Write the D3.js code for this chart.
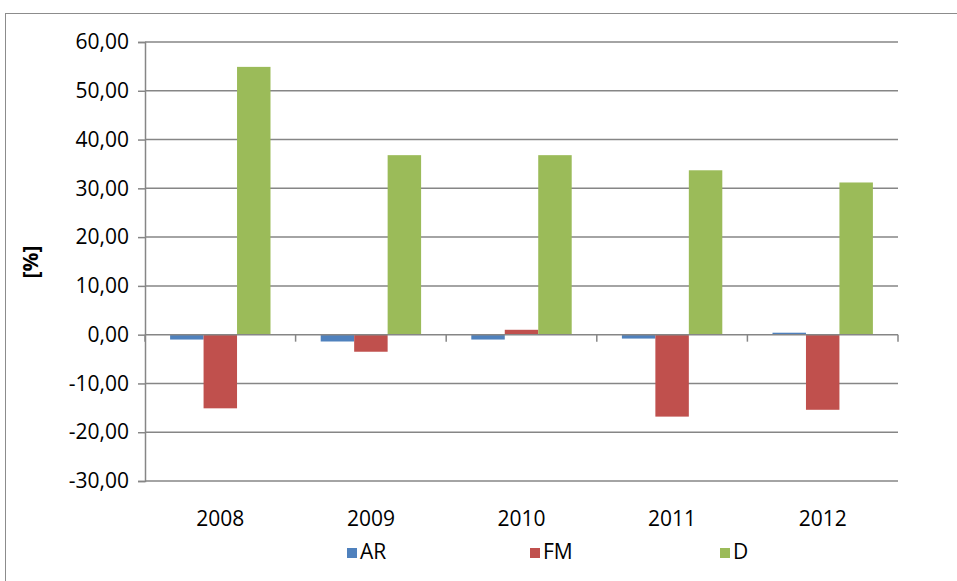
<!DOCTYPE html>
<html>
<head>
<meta charset="utf-8">
<script src="https://cdn.jsdelivr.net/npm/d3@7"></script>
<style>
  body { margin: 0; background: #fff; }
  svg text { font-family: "Open Sans", sans-serif; fill: #000; }
</style>
</head>
<body>
<svg id="chart" width="957" height="581"></svg>
<script>
// data
const years = ['2008', '2009', '2010', '2011', '2012'];
const seriesNames = ['AR', 'FM', 'D'];
const arValues = [-1.0, -1.4, -1.0, -0.8, 0.4];
const fmValues = [-15.1, -3.5, 1.0, -16.8, -15.4];
const dValues = [54.9, 36.8, 36.8, 33.7, 31.2];
const yTicks = [-30, -20, -10, 0, 10, 20, 30, 40, 50, 60];

const COLORS = { AR: '#4F81BD', FM: '#C0504D', D: '#9BBB59' };
const GRID = '#868686';
const FONT = 21;

const svg = d3.select('#chart');
const m = { top: 42, left: 145, right: 898, bottom: 481 };

// outer chart border (right and bottom edges fall outside the picture)
svg.append('rect')
  .attr('x', 5.5).attr('y', 13.5)
  .attr('width', 1000).attr('height', 700)
  .attr('fill', 'none').attr('stroke', '#8c8c8c').attr('stroke-width', 1);

const x0 = d3.scaleBand().domain(years).range([m.left, m.right]);
// Excel gap width 150%: 3 bars + 1.5 bar gap per category
const barW = x0.bandwidth() / 4.5;
const x1 = d3.scaleBand().domain(seriesNames).range([barW * 0.75, barW * 3.75]);
const y = d3.scaleLinear().domain([-30, 60]).range([m.bottom, m.top]);

// gridlines
svg.append('g').selectAll('line').data(yTicks.filter(t => t !== 0)).join('line')
  .attr('x1', m.left).attr('x2', m.right)
  .attr('y1', d => y(d)).attr('y2', d => y(d))
  .attr('stroke', GRID).attr('stroke-width', 1.5);

// y axis
const yAxis = svg.append('g').attr('transform', `translate(${m.left},0)`)
  .call(d3.axisLeft(y).tickValues(yTicks).tickSize(7).tickPadding(9)
    .tickFormat(d => d3.format('.2f')(d).replace('.', ',').replace('−', '-')));
yAxis.select('.domain').attr('stroke', GRID).attr('stroke-width', 1.5);
yAxis.selectAll('.tick line').attr('stroke', GRID).attr('stroke-width', 1.5);
yAxis.selectAll('.tick text').attr('font-size', FONT).attr('fill', '#000')
  .style('font-family', '"Open Sans", sans-serif');

// bars
const rows = years.map((yr, i) => ({ year: yr, AR: arValues[i], FM: fmValues[i], D: dValues[i] }));
const groups = svg.append('g').selectAll('g').data(rows).join('g')
  .attr('transform', d => `translate(${x0(d.year)},0)`);
groups.selectAll('rect')
  .data(d => seriesNames.map(k => ({ key: k, value: d[k] })))
  .join('rect')
  .attr('x', d => x1(d.key))
  .attr('width', x1.bandwidth())
  .attr('y', d => y(Math.max(0, d.value)))
  .attr('height', d => Math.abs(y(d.value) - y(0)))
  .attr('fill', d => COLORS[d.key]);

// x axis at zero with downward ticks at category boundaries
const xAxis = svg.append('g').attr('transform', `translate(0,${y(0)})`);
xAxis.append('line')
  .attr('x1', m.left).attr('x2', m.right)
  .attr('stroke', GRID).attr('stroke-width', 1.5);
const bounds = years.map(d => x0(d)).concat([m.right]);
xAxis.selectAll('.xt').data(bounds).join('line').attr('class', 'xt')
  .attr('x1', d => d).attr('x2', d => d).attr('y1', 0).attr('y2', 7)
  .attr('stroke', GRID).attr('stroke-width', 1.5);

// category labels below plot
svg.append('g').selectAll('text').data(years).join('text')
  .attr('x', d => x0(d) + x0.bandwidth() / 2)
  .attr('y', 526)
  .attr('text-anchor', 'middle')
  .attr('font-size', FONT)
  .text(d => d);

// y label
svg.append('text')
  .attr('transform', 'translate(38,262) rotate(-90)')
  .attr('text-anchor', 'middle')
  .attr('font-size', FONT).attr('font-weight', 'bold')
  .text('[%]');

// legend
const legendX = [347, 530, 720];
const legend = svg.append('g').selectAll('g').data(seriesNames).join('g')
  .attr('transform', (d, i) => `translate(${legendX[i]},548)`);
legend.append('rect').attr('width', 10).attr('height', 10).attr('fill', d => COLORS[d]);
legend.append('text').attr('x', 13).attr('y', 11).attr('font-size', FONT).text(d => d);
</script>
</body>
</html>
